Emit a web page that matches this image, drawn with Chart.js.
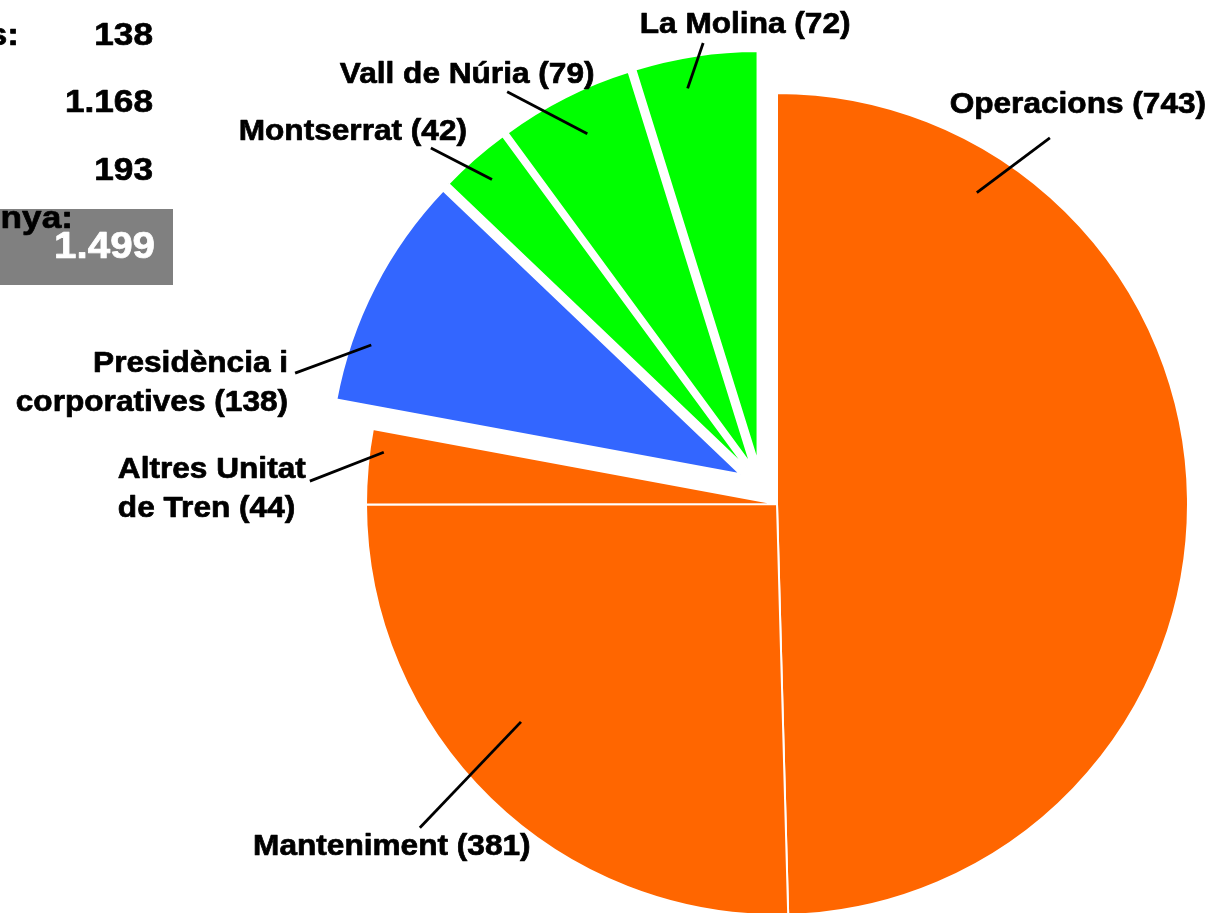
<!DOCTYPE html>
<html>
<head>
<meta charset="utf-8">
<script src="https://cdn.jsdelivr.net/npm/chart.js@4.4.1/dist/chart.umd.min.js"></script>
<style>
  html, body { margin: 0; padding: 0; background: #ffffff; overflow: hidden; }
  canvas { display: block; }
</style>
</head>
<body>
<canvas id="chart" width="1225" height="913"></canvas>
<script>
// ---------------- DATA ----------------
const categories = ['Operacions', 'Manteniment', 'Altres Unitat de Tren', 'Presidència i corporatives', 'Montserrat', 'Vall de Núria', 'La Molina'];
const values = [743, 381, 44, 138, 42, 79, 72];
const groups = ['tren', 'tren', 'tren', 'presidencia', 'muntanya', 'muntanya', 'muntanya'];
// label line breaks (the value is appended to the last line)
const labelLines = [['Operacions'], ['Manteniment'], ['Altres Unitat', 'de Tren'], ['Presidència i', 'corporatives'], ['Montserrat'], ['Vall de Núria'], ['La Molina']];
// left summary panel (the panel is cut off by the left edge of the picture)
const summaryTails = ['s:', '', '', 'nya:'];
const summaryGroups = ['presidencia', 'tren', 'muntanya', null]; // null = total

// ---------------- STYLE ----------------
const groupColors = { tren: '#FF6600', presidencia: '#3366FF', muntanya: '#00FF00' };
const explodedGroups = ['presidencia', 'muntanya'];
const EXPLODE_GROUP = 25;  // px along the bisector of the exploded block
const EXPLODE_OWN = 23;    // px along each slice's own bisector
const TEXT_SCALE_X = 1.09;
const LABEL_FONT = 'bold 29px "Liberation Sans", Arial, Helvetica, sans-serif';

// label layout: anchor inside the slice (deg clockwise from 12 o'clock, fraction of radius, from the slice centre),
// outer point (deg, fraction of radius, from the pie centre), text offset from outer point
const labelLayout = [
  { aDeg: 32.7,  aFrac: 0.90,  oDeg: 36.7,  oFrac: 1.111, dx: 28,   dy: -25, align: 'center' },
  { aDeg: 229.6, aFrac: 0.818, oDeg: 227.8, oFrac: 1.173, dx: -28,  dy: 27,  align: 'center' },
  { aDeg: 277.5, aFrac: 0.965, oDeg: 272.8, oFrac: 1.138, dx: -192, dy: -3,  align: 'left' },
  { aDeg: 289.3, aFrac: 0.952, oDeg: 285.2, oFrac: 1.215, dx: -7,   dy: -1,  align: 'right' },
  { aDeg: 318.6, aFrac: 0.934, oDeg: 315.8, oFrac: 1.208, dx: -78,  dy: -8,  align: 'center' },
  { aDeg: 333.7, aFrac: 0.897, oDeg: 326.8, oFrac: 1.199, dx: -40,  dy: -9,  align: 'center' },
  { aDeg: 349.4, aFrac: 0.925, oDeg: 350.9, oFrac: 1.136, dx: 42,   dy: -10, align: 'center' }
];

const colors = groups.map(g => groupColors[g]);
const isExploded = groups.map(g => explodedGroups.includes(g));

function fmt(n) {
  return String(n).replace(/\B(?=(\d{3})+(?!\d))/g, '.');
}
function sumGroup(g) {
  return values.reduce((s, v, i) => (g === null || groups[i] === g) ? s + v : s, 0);
}
function scaledText(ctx, txt, x, y, align, sx) {
  ctx.save();
  ctx.translate(x, y);
  ctx.scale(sx, 1);
  ctx.textAlign = align;
  ctx.textBaseline = 'alphabetic';
  ctx.lineJoin = 'round';
  ctx.lineWidth = 0.7;
  ctx.strokeStyle = ctx.fillStyle;
  ctx.strokeText(txt, 0, 0);
  ctx.fillText(txt, 0, 0);
  ctx.restore();
}
const rad = d => d * Math.PI / 180;

// explode the selected block of slices
const explodePlugin = {
  id: 'explodeBlock',
  afterDatasetUpdate(chart, args) {
    const arcs = args.meta.data;
    const idx = isExploded.map((e, i) => e ? i : -1).filter(i => i >= 0);
    if (!idx.length) return;
    const gMid = (arcs[idx[0]].startAngle + arcs[idx[idx.length - 1]].endAngle) / 2;
    idx.forEach(i => {
      const a = arcs[i];
      const mid = (a.startAngle + a.endAngle) / 2;
      a.x += Math.cos(gMid) * EXPLODE_GROUP + Math.cos(mid) * EXPLODE_OWN;
      a.y += Math.sin(gMid) * EXPLODE_GROUP + Math.sin(mid) * EXPLODE_OWN;
    });
  }
};

// leader lines and slice labels
const labelPlugin = {
  id: 'sliceLabels',
  afterDatasetsDraw(chart) {
    const ctx = chart.ctx;
    const arcs = chart.getDatasetMeta(0).data;
    const ca = chart.chartArea;
    const cx = (ca.left + ca.right) / 2, cy = (ca.top + ca.bottom) / 2;
    const R = arcs[0].outerRadius;
    ctx.save();
    ctx.strokeStyle = '#000000';
    ctx.lineWidth = 2.8;
    ctx.fillStyle = '#000000';
    ctx.font = LABEL_FONT;
    labelLayout.forEach((L, i) => {
      const a = arcs[i];
      const ax = a.x + Math.sin(rad(L.aDeg)) * L.aFrac * R;
      const ay = a.y - Math.cos(rad(L.aDeg)) * L.aFrac * R;
      const ox = cx + Math.sin(rad(L.oDeg)) * L.oFrac * R;
      const oy = cy - Math.cos(rad(L.oDeg)) * L.oFrac * R;
      ctx.beginPath();
      ctx.moveTo(ax, ay);
      ctx.lineTo(ox, oy);
      ctx.stroke();
      const lines = labelLines[i].slice();
      lines[lines.length - 1] = lines[lines.length - 1] + ' (' + fmt(values[i]) + ')';
      lines.forEach((t, k) => {
        scaledText(ctx, t, ox + L.dx, oy + L.dy + k * 39, L.align, TEXT_SCALE_X);
      });
    });
    ctx.restore();
  }
};

// left summary panel
const summaryPlugin = {
  id: 'summaryPanel',
  afterDraw(chart) {
    const ctx = chart.ctx;
    ctx.save();
    // grey total box
    ctx.fillStyle = '#808080';
    ctx.fillRect(0, 209, 173, 76);
    const rowsY = [45, 112, 180];
    ctx.font = 'bold 32px "Liberation Sans", Arial, Helvetica, sans-serif';
    ctx.fillStyle = '#000000';
    for (let r = 0; r < 3; r++) {
      if (summaryTails[r]) scaledText(ctx, summaryTails[r], 19, rowsY[r], 'right', 1.1);
      scaledText(ctx, fmt(sumGroup(summaryGroups[r])), 153, rowsY[r], 'right', 1.1);
    }
    scaledText(ctx, summaryTails[3], 73, 228, 'right', 1.1);
    ctx.fillStyle = '#ffffff';
    ctx.font = 'bold 36px "Liberation Sans", Arial, Helvetica, sans-serif';
    scaledText(ctx, fmt(sumGroup(null)), 155, 258, 'right', 1.12);
    ctx.restore();
  }
};

new Chart(document.getElementById('chart'), {
  type: 'pie',
  data: {
    labels: categories,
    datasets: [{
      data: values,
      backgroundColor: colors,
      borderColor: '#ffffff',
      borderWidth: 2,
      radius: 411
    }]
  },
  options: {
    responsive: false,
    animation: false,
    layout: { padding: { left: 329, top: 95, right: 0, bottom: 0 } },
    plugins: {
      legend: { display: false },
      tooltip: { enabled: false }
    }
  },
  plugins: [explodePlugin, labelPlugin, summaryPlugin]
});
</script>
</body>
</html>
